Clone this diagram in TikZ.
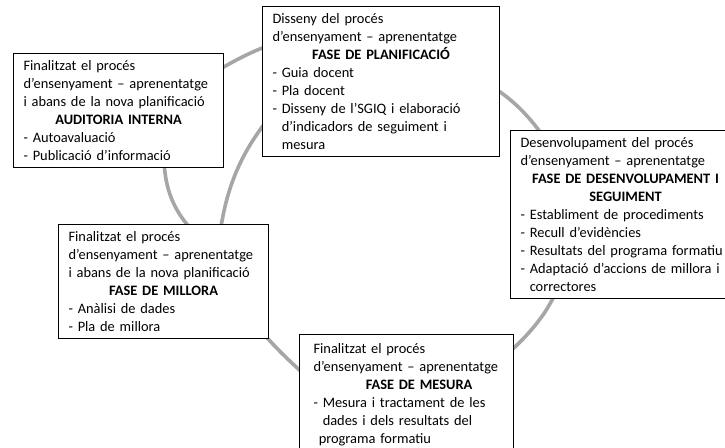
\documentclass[tikz,border=0pt]{standalone}
\usepackage{fontspec}
\setmainfont{Carlito}
\pgfdeclarelayer{background}
\pgfsetlayers{background,main}
\definecolor{arcgray}{RGB}{166,166,166}
\tikzset{
  boxst/.style={draw=black, line width=1.1pt, fill=white, anchor=north west,
    inner xsep=10pt, inner ysep=0pt, align=left,
    font=\fontsize{14.4}{18}\selectfont},
  arcst/.style={draw=arcgray, line width=3.6pt}
}
\begin{document}
\begin{tikzpicture}[x=1pt,y=-1pt]
\useasboundingbox (0,0) rectangle (725,447);
\clip (0,0) rectangle (725,447);

% boxes
\node[boxst, minimum width=210pt, minimum height=114pt, text width=190pt] (aud) at (13,53)
 {Finalitzat el procés\\d'ensenyament – aprenentatge\\i abans de la nova planificació\par
  {\centering\bfseries AUDITORIA INTERNA\par}
  - Autoavaluació\\- Publicació d'informació};

\node[boxst, minimum width=237pt, minimum height=150pt, text width=217pt] (pla) at (262,6)
 {Disseny del procés\\d'ensenyament – aprenentatge\par
  {\centering\bfseries FASE DE PLANIFICACIÓ\par}
  - Guia docent\\- Pla docent\\- Disseny de l'SGIQ i elaboració\\\phantom{- }d'indicadors de seguiment i\\\phantom{- }mesura};

\node[boxst, minimum width=230pt, minimum height=168pt, text width=210pt] (des) at (510,130)
 {Desenvolupament del procés\\d'ensenyament – aprenentatge\par
  {\centering\bfseries FASE DE DESENVOLUPAMENT I\\SEGUIMENT\par}
  - Establiment de procediments\\- Recull d'evidències\\- Resultats del programa formatiu\\- Adaptació d'accions de millora i\\\phantom{- }correctores};

\node[boxst, minimum width=210pt, minimum height=114pt, text width=190pt] (mil) at (58,224)
 {Finalitzat el procés\\d'ensenyament – aprenentatge\\i abans de la nova planificació\par
  {\centering\bfseries FASE DE MILLORA\par}
  - Anàlisi de dades\\- Pla de millora};

\node[boxst, minimum width=214pt, minimum height=120pt, text width=194pt] (mes) at (299,334)
 {\leftskip=4pt Finalitzat el procés\\d'ensenyament – aprenentatge\par
  {\centering\bfseries\hspace*{25pt}FASE DE MESURA\par}
  - Mesura i tractament de les\\\phantom{- }dades i dels resultats del\\\phantom{- }programa formatiu};

% arc end points (hidden under the boxes)
\coordinate (a1) at (200,82);   \coordinate (a2) at (285,40);
\coordinate (b1) at (470,75);   \coordinate (b2) at (552,150);
\coordinate (c1) at (562,275);  \coordinate (c2) at (495,365);
\coordinate (d1) at (250,318);  \coordinate (d2) at (318,386);
\coordinate (e1) at (164,150);  \coordinate (e2) at (200,238);
\coordinate (f1) at (218,250);  \coordinate (f2) at (280,105);

\begin{pgfonlayer}{background}
\fill[white] (0,0) rectangle (725,447);
\draw[arcst] (a1) .. controls (230,62) and (255,49) .. (a2);
\draw[arcst] (b1) .. controls (500,88) and (528,110) .. (b2);
\draw[arcst] (c1) .. controls (552,310) and (530,335) .. (c2);
\draw[arcst] (d1) .. controls (265,336) and (282,356) .. (d2);
\draw[arcst] (e1) .. controls (163,190) and (175,215) .. (e2);
\draw[arcst] (f1) .. controls (224,190) and (240,150) .. (f2);
\end{pgfonlayer}
\end{tikzpicture}
\end{document}
